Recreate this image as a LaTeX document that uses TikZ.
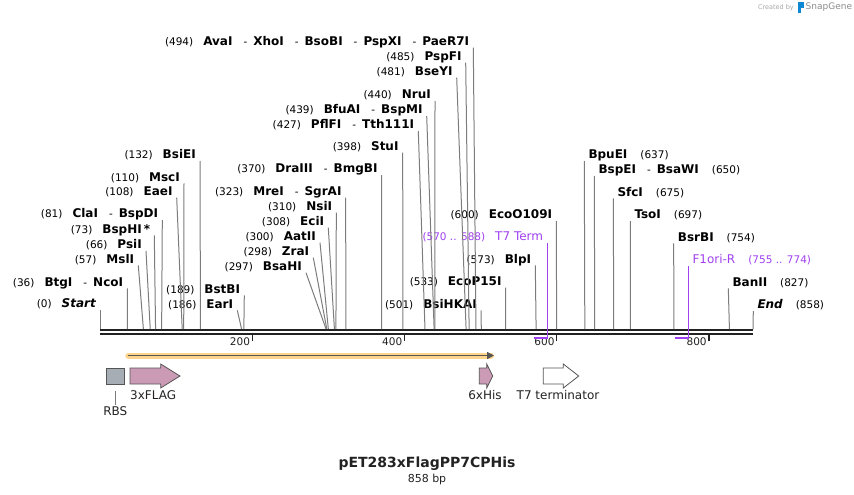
\documentclass[tikz,border=0pt]{standalone}
\usepackage{fontspec}
\setmainfont{DejaVu Sans}
\usepackage{tikz}
\usetikzlibrary{arrows.meta, positioning}

\definecolor{cutline}{HTML}{7C7C7C}
\definecolor{strandblack}{HTML}{222222}
\definecolor{primer}{HTML}{A040F0}
\definecolor{tagpink}{HTML}{CB9AB5}
\definecolor{rbsgray}{HTML}{A6ADB5}
\definecolor{orfglow}{HTML}{FFD48C}
\definecolor{featline}{HTML}{555555}

\newcommand{\bp}[1]{{\fontsize{10.5}{12}\selectfont #1}}
\newcommand{\enz}[1]{{\fontsize{12}{14}\selectfont\bfseries #1}}
\newcommand{\orsep}{\hspace{11pt}\bp{-}\hspace{6pt}}

\begin{document}
\begin{tikzpicture}[x=1pt, y=-1pt,
  lsite/.style={anchor=south east, inner xsep=4pt, inner ysep=0pt, text height=8pt, text depth=2pt},
  rsite/.style={anchor=south west, inner xsep=4pt, inner ysep=0pt, text height=8pt, text depth=2pt},
  cut/.style={draw=cutline, line width=1pt},
  oligo/.style={draw=primer, line width=1.3pt},
  strand/.style={draw=strandblack, line width=2pt},
  tick/.style={draw=strandblack, line width=1.4pt},
  feat/.style={draw=featline, line width=0.8pt},
  featlabel/.style={font=\fontsize{12}{14}\selectfont, text=strandblack}]

\useasboundingbox (0,0) rectangle (854,495);

% backbone
\coordinate (bb-l) at (100,330);
\coordinate (bb-r) at (753,330);
\draw[strand] (bb-l) -- (bb-r);
\draw[strand] ([yshift=-4pt]bb-l) -- ([yshift=-4pt]bb-r);
\foreach \t in {200,400,600,800} {
  \draw[tick] ({100+\t*0.7611},335) -- ++(0,6);
  \node[anchor=east, inner sep=1pt, text=strandblack] at ({99+\t*0.7611},342) {\bp{\t}};
}

% sites left of their line
\node[lsite] (start)    at (100,310)   {\bp{(0)}\hspace{10pt}\enz{\itshape Start}};
\node[lsite] (btgi)     at (127.3,288.3) {\bp{(36)}\hspace{10pt}\enz{BtgI}\orsep\enz{NcoI}};
\node[lsite] (msli)     at (138.3,265.3) {\bp{(57)}\hspace{10pt}\enz{MslI}};
\node[lsite] (psii)     at (146,251)   {\bp{(66)}\hspace{10pt}\enz{PsiI}};
\node[lsite] (bsphi)    at (154.3,235.3) {\bp{(73)}\hspace{10pt}\enz{BspHI\,*}};
\node[lsite] (clai)     at (162.3,220) {\bp{(81)}\hspace{10pt}\enz{ClaI}\orsep\enz{BspDI}};
\node[lsite] (eaei)     at (176.7,197.7) {\bp{(108)}\hspace{10pt}\enz{EaeI}};
\node[lsite] (msci)     at (184,183.3) {\bp{(110)}\hspace{10pt}\enz{MscI}};
\node[lsite] (bsiei)    at (200,161)   {\bp{(132)}\hspace{10pt}\enz{BsiEI}};
\node[lsite] (eari)     at (237.3,310.3) {\bp{(186)}\hspace{10pt}\enz{EarI}};
\node[lsite] (bstbi)    at (244.3,295.3) {\bp{(189)}\hspace{10pt}\enz{BstBI}};
\node[lsite] (bsahi)    at (306,272.7) {\bp{(297)}\hspace{10pt}\enz{BsaHI}};
\node[lsite] (zrai)     at (313.3,257.7) {\bp{(298)}\hspace{10pt}\enz{ZraI}};
\node[lsite] (aatii)    at (320,242.7) {\bp{(300)}\hspace{10pt}\enz{AatII}};
\node[lsite] (ecii)     at (328.3,227.7) {\bp{(308)}\hspace{10pt}\enz{EciI}};
\node[lsite] (nsii)     at (336.3,212.7) {\bp{(310)}\hspace{10pt}\enz{NsiI}};
\node[lsite] (mrei)     at (345.7,197.7) {\bp{(323)}\hspace{10pt}\enz{MreI}\orsep\enz{SgrAI}};
\node[lsite] (draiii)   at (381.7,175)   {\bp{(370)}\hspace{10pt}\enz{DraIII}\orsep\enz{BmgBI}};
\node[lsite] (stui)     at (402.7,152.7) {\bp{(398)}\hspace{10pt}\enz{StuI}};
\node[lsite] (pflfi)    at (418.3,131) {\bp{(427)}\hspace{10pt}\enz{PflFI}\orsep\enz{Tth111I}};
\node[lsite] (bfuai)    at (426.7,116) {\bp{(439)}\hspace{10pt}\enz{BfuAI}\orsep\enz{BspMI}};
\node[lsite] (nrui)     at (435,101)   {\bp{(440)}\hspace{10pt}\enz{NruI}};
\node[lsite] (bseyi)    at (456.7,77.7) {\bp{(481)}\hspace{10pt}\enz{BseYI}};
\node[lsite] (pspfi)    at (465.7,62.7) {\bp{(485)}\hspace{10pt}\enz{PspFI}};
\node[lsite] (avai)     at (473.3,47.7) {\bp{(494)}\hspace{10pt}\enz{AvaI}\orsep\enz{XhoI}\orsep\enz{BsoBI}\orsep\enz{PspXI}\orsep\enz{PaeR7I}};
\node[lsite] (bsihkai)  at (481,310.3) {\bp{(501)}\hspace{10pt}\enz{BsiHKAI}};
\node[lsite] (ecop15i)  at (505.7,287.7) {\bp{(533)}\hspace{10pt}\enz{EcoP15I}};
\node[lsite] (blpi)     at (535.3,265.3) {\bp{(573)}\hspace{10pt}\enz{BlpI}};
\node[lsite, text=primer] (t7term) at (547.3,242.7) {\bp{(570 .. 588)}\hspace{10pt}{\fontsize{12}{14}\selectfont T7 Term}};
\node[lsite] (ecoo109i) at (556.3,221) {\bp{(600)}\hspace{10pt}\enz{EcoO109I}};

% sites right of their line
\node[rsite] (bpuei)  at (584.3,161) {\enz{BpuEI}\hspace{13pt}\bp{(637)}};
\node[rsite] (bspei)  at (594.3,176) {\enz{BspEI}\orsep\enz{BsaWI}\hspace{13pt}\bp{(650)}};
\node[rsite] (sfci)   at (613.3,198.3) {\enz{SfcI}\hspace{13pt}\bp{(675)}};
\node[rsite] (tsoi)   at (630.3,221) {\enz{TsoI}\hspace{13pt}\bp{(697)}};
\node[rsite] (bsrbi)  at (673.7,243.3) {\enz{BsrBI}\hspace{13pt}\bp{(754)}};
\node[rsite, text=primer] (f1ori) at (688.3,266) {{\fontsize{12}{14}\selectfont F1ori-R}\hspace{13pt}\bp{(755 .. 774)}};
\node[rsite] (banii)  at (728.3,288.3) {\enz{BanII}\hspace{13pt}\bp{(827)}};
\node[rsite] (endpos) at (753.3,311) {\enz{\itshape End}\hspace{13pt}\bp{(858)}};

% where each site meets the backbone
\foreach \n/\p in {start/0, btgi/36, msli/57, psii/66, bsphi/73, clai/81, eaei/108,
    msci/110, bsiei/132, eari/186, bstbi/189, bsahi/297, zrai/298, aatii/300,
    ecii/308, nsii/310, mrei/323, draiii/370, stui/398, pflfi/427, bfuai/439,
    nrui/440, bseyi/481, pspfi/485, avai/494, bsihkai/501, ecop15i/533,
    blpi/573, ecoo109i/600, bpuei/637, bspei/650, sfci/675, tsoi/697,
    bsrbi/754, banii/827, endpos/858}
  \coordinate (\n-b) at ({100+\p*0.7611},329);

\foreach \n in {start, btgi, msli, psii, bsphi, clai, eaei, msci, bsiei, eari,
    bstbi, bsahi, zrai, aatii, ecii, nsii, mrei, draiii, stui, pflfi, bfuai,
    nrui, bseyi, pspfi, avai, bsihkai, ecop15i, blpi, ecoo109i}
  \draw[cut] (\n.south east) -- (\n-b);
\foreach \n in {bpuei, bspei, sfci, tsoi, bsrbi, banii, endpos}
  \draw[cut] (\n.south west) -- (\n-b);

% primers
\coordinate (t7term-l) at (533.8,337.5);
\coordinate (t7term-r) at (547.5,337.5);
\coordinate (f1ori-l) at (674.6,337.5);
\coordinate (f1ori-r) at (688.6,337.5);
\draw[oligo] (t7term.south east) -- (t7term.south east |- t7term-r);
\draw[oligo, line width=2pt] (t7term-l) -- (t7term-r);
\draw[oligo] (f1ori.south west) -- (f1ori.south west |- f1ori-r);
\draw[oligo, line width=2pt] (f1ori-l) -- (f1ori-r);

% open reading frame
\coordinate (orf-s) at (128.3,355.5);
\coordinate (orf-e) at (494,355.5);
\draw[orfglow, line width=6pt, line cap=round] (orf-s) -- ([xshift=-3pt]orf-e);
\draw[featline, line width=1.6pt, -{Triangle[length=7pt,width=7pt]}] (orf-s) -- (orf-e);

% features
\node[feat, fill=rbsgray, minimum width=18.5pt, minimum height=15.7pt, inner sep=0pt] (rbs) at (115.3,376.2) {};
\node[featlabel, anchor=north, inner sep=0pt] (rbslabel) at (115.3,406) {RBS};
\draw[cut, line width=0.8pt] ([yshift=-7pt]rbs.south) -- ([yshift=1pt]rbslabel.north);

\draw[feat, fill=tagpink] (130,368) -- (160.7,368) -- (160.7,364) -- (180,376) -- (160.7,388) -- (160.7,384) -- (130,384) -- cycle;
\node[featlabel, anchor=north west, inner sep=0pt] (flaglabel) at (130,390) {3xFLAG};

\draw[feat, fill=tagpink] (479.3,368) -- (486.7,368) -- (486.7,364) -- (492.7,376) -- (486.7,388) -- (486.7,384) -- (479.3,384) -- cycle;
\node[featlabel, anchor=north, inner sep=0pt] (hislabel) at (485,390) {6xHis};

\draw[feat, fill=white] (543.3,368) -- (563.3,368) -- (563.3,364) -- (578.7,376) -- (563.3,388) -- (563.3,384) -- (543.3,384) -- cycle;
\node[featlabel, anchor=north, inner sep=0pt] (termlabel) at (558,390) {T7 terminator};

% title
\node[text=strandblack] (title) at (427,464) {\fontsize{14}{16}\selectfont\bfseries pET283xFlagPP7CPHis};
\node[text=strandblack, below=0pt of title, inner sep=0pt] (size) {\fontsize{11}{13}\selectfont 858 bp};

% watermark
\node[text=black!35, anchor=east, inner sep=0pt] (made) at (794,7.5) {\fontsize{6.5}{8}\selectfont Created by};
\fill[cyan!70!blue] (797.5,2.5) rectangle (800.5,13);
\fill[cyan!70!blue] (800.5,2.5) rectangle (803.5,8);
\node[text=black!45, anchor=west, inner sep=0pt] (snap) at (805.5,7.5) {\fontsize{9}{11}\selectfont SnapGene};

\end{tikzpicture}
\end{document}
